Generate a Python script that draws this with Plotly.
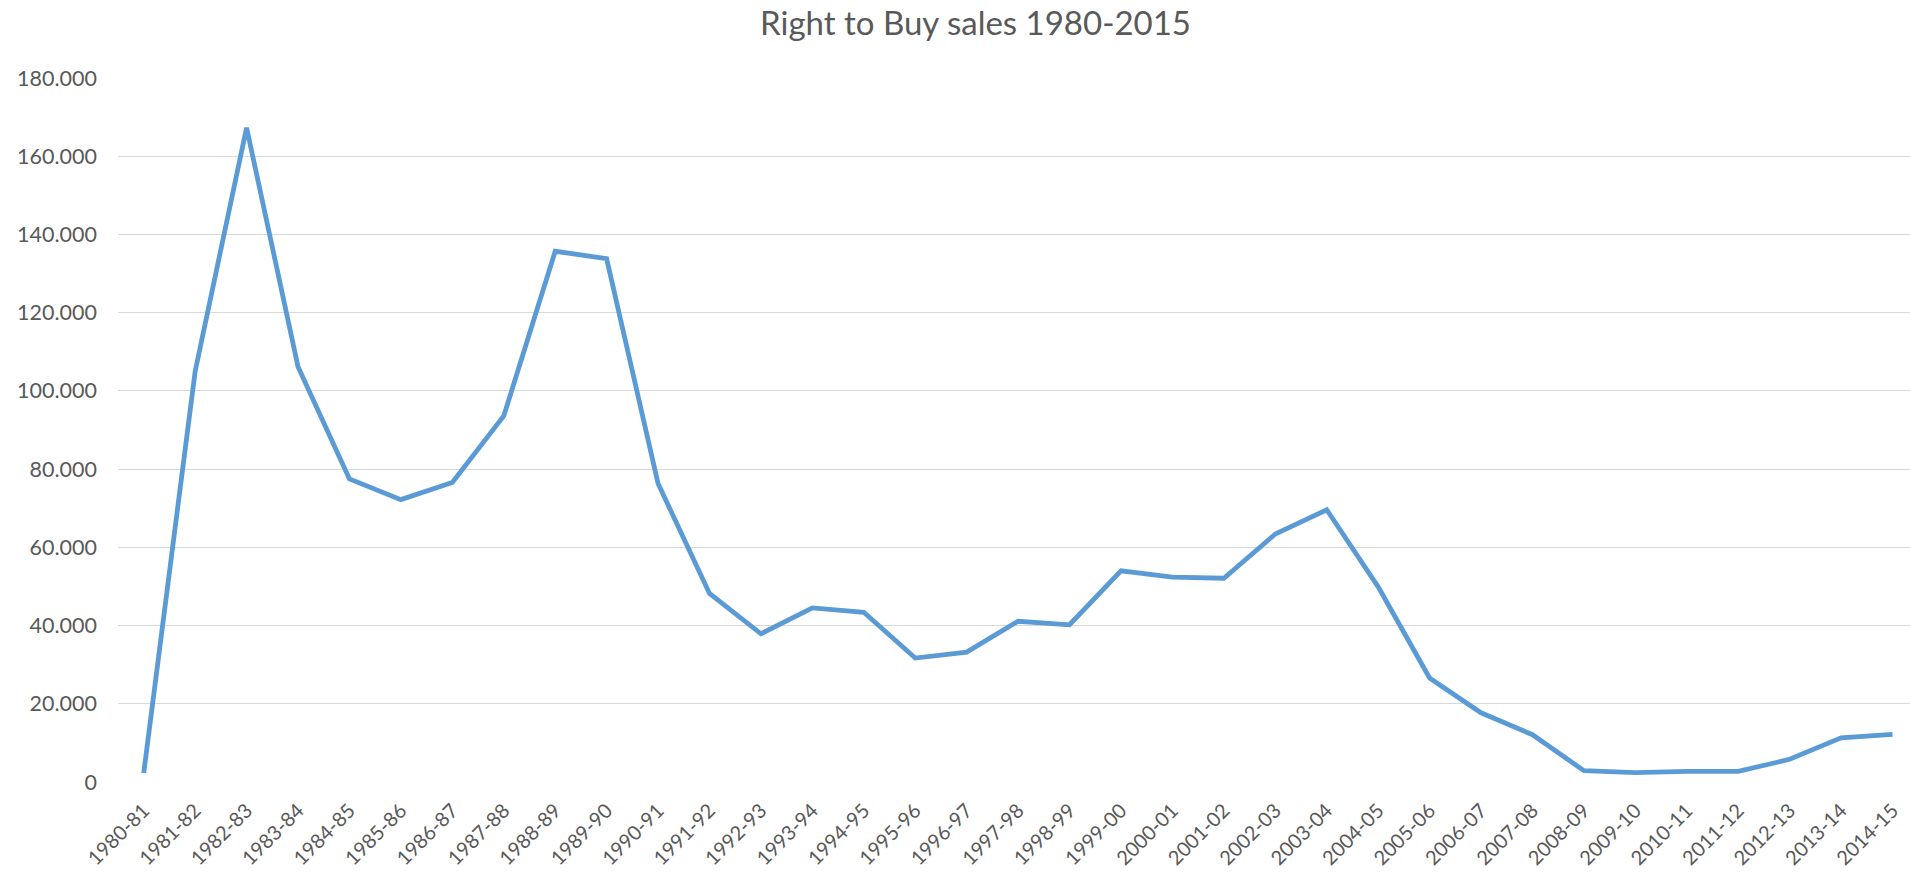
import plotly.graph_objects as go

years = ["1980-81", "1981-82", "1982-83", "1983-84", "1984-85", "1985-86", "1986-87",
         "1987-88", "1988-89", "1989-90", "1990-91", "1991-92", "1992-93", "1993-94",
         "1994-95", "1995-96", "1996-97", "1997-98", "1998-99", "1999-00", "2000-01",
         "2001-02", "2002-03", "2003-04", "2004-05", "2005-06", "2006-07", "2007-08",
         "2008-09", "2009-10", "2010-11", "2011-12", "2012-13", "2013-14", "2014-15"]

sales = [2300, 105000, 167300, 106200, 77500, 72200, 76600,
         93600, 135700, 133800, 76300, 48200, 37900, 44500,
         43400, 31700, 33200, 41100, 40200, 54000, 52400,
         52100, 63400, 69600, 49900, 26600, 17700, 12100,
         2900, 2400, 2700, 2700, 5800, 11300, 12200]

y_ticks = [0, 20000, 40000, 60000, 80000, 100000, 120000, 140000, 160000, 180000]

FONT = "Lato"
TXT = "#595959"

fig = go.Figure()
fig.add_trace(go.Scatter(
    x=years, y=sales, mode="lines",
    line=dict(color="#5B9BD5", width=4.8),
    hoverinfo="x+y",
))

fig.update_layout(
    width=1910, height=873,
    paper_bgcolor="white", plot_bgcolor="white",
    separators=",.",
    margin=dict(l=118, r=0, t=78, b=91, autoexpand=False),
    showlegend=False,
    title=dict(text="Right to Buy sales 1980-2015", x=975.5 / 1910, xanchor="center",
               xref="container", y=1 - 23 / 873, yanchor="middle", automargin=False,
               font=dict(family=FONT, size=33, color=TXT)),
    font=dict(family=FONT, color=TXT, size=21),
)
fig.update_xaxes(
    type="category", range=[-0.5, 34.34], automargin=False,
    tickangle=-45, showgrid=False, showline=False, zeroline=False,
    ticks="", ticklabelstandoff=12,
    tickfont=dict(family=FONT, size=20, color=TXT),
)
fig.update_yaxes(
    range=[0, 180000], tickvals=y_ticks, tickformat=",d", automargin=False,
    showgrid=True, gridcolor="#D9D9D9", gridwidth=1.3,
    zeroline=False, showline=False, ticks="",
    ticklabelstandoff=20,
    tickfont=dict(family=FONT, size=21.5, color=TXT),
)

fig.write_html(
    "out.html",
    config={"displayModeBar": False},
    post_script="document.body.style.margin='0';document.body.style.overflow='hidden';",
)
